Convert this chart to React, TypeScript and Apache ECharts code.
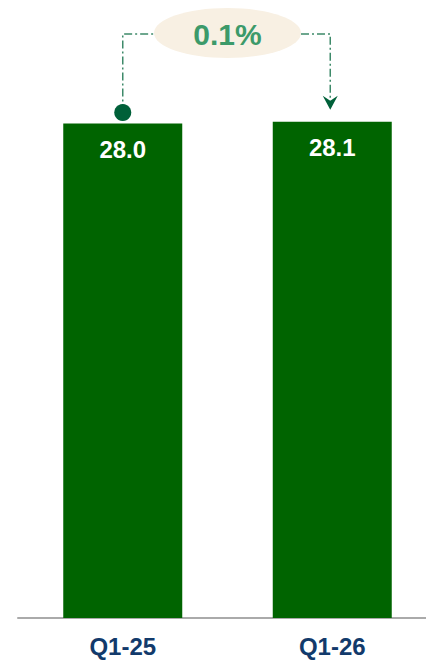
import React, { useEffect, useRef } from "react";
import * as echarts from "echarts";

const categories = ["Q1-25", "Q1-26"];
const values = [28.0, 28.1];
const changeLabel = "0.1%";

export default function App() {
  const ref = useRef<HTMLDivElement>(null);
  useEffect(() => {
    if (!ref.current) return;
    const chart = echarts.init(ref.current, null, { renderer: "svg" });
    chart.setOption({
      animation: false,
      grid: { left: 18, width: 419, top: 0, bottom: 44, outerBoundsMode: "none", containLabel: false },
      xAxis: {
        type: "category",
        data: categories,
        axisLine: { lineStyle: { color: "#AAAAAA", width: 2 } },
        axisTick: { show: false },
        axisLabel: {
          color: "#123A6B",
          fontFamily: "Liberation Sans",
          fontWeight: "bold",
          fontSize: 24,
          margin: 16,
        },
      },
      yAxis: { type: "value", min: 0, max: 35, show: false },
      series: [
        {
          type: "bar",
          data: values,
          barWidth: 119,
          itemStyle: { color: "#006400" },
          label: {
            show: true,
            position: "insideTop",
            distance: 14,
            color: "#FFFFFF",
            fontFamily: "Liberation Sans",
            fontWeight: "bold",
            fontSize: 24,
            formatter: (p: any) => p.value.toFixed(1),
          },
        },
      ],
    });
    const p1 = chart.convertToPixel({ seriesIndex: 0 }, [0, values[0]]) as number[];
    const p2 = chart.convertToPixel({ seriesIndex: 0 }, [1, values[1]]) as number[];
    const x1 = p1[0];
    const x2 = p2[0] - 2;
    const topY = 34;
    const cx = (p1[0] + p2[0]) / 2;
    const rx = 73.5;
    const ry = 25;
    const lineColor = "#3E8A6A";
    const dash = [8, 3, 2, 3];
    const dotY = p1[1] - 11;
    const arrowTip = p2[1] - 12;
    chart.setOption({
      graphic: [
        {
          type: "polyline",
          shape: { points: [[x1, dotY], [x1, topY], [cx - rx, topY]] },
          style: { stroke: lineColor, lineWidth: 1.5, lineDash: dash, fill: null },
        },
        {
          type: "polyline",
          shape: { points: [[cx + rx, topY], [x2, topY], [x2, arrowTip - 8]] },
          style: { stroke: lineColor, lineWidth: 1.5, lineDash: dash, fill: null },
        },
        {
          type: "polygon",
          shape: {
            points: [
              [x2, arrowTip],
              [x2 - 7.5, arrowTip - 14],
              [x2, arrowTip - 9],
              [x2 + 7.5, arrowTip - 14],
            ],
          },
          style: { fill: "#006039" },
        },
        {
          type: "circle",
          shape: { cx: x1, cy: dotY, r: 8.5 },
          style: { fill: "#006039" },
        },
        {
          type: "ellipse",
          shape: { cx, cy: topY - 1, rx, ry },
          style: { fill: "#F8F0E3" },
        },
        {
          type: "text",
          x: cx,
          y: topY,
          style: {
            text: changeLabel,
            fill: "#3C9A6A",
            font: "bold 30px 'Liberation Sans'",
            align: "center",
            verticalAlign: "middle",
          },
        },
      ],
    });
    return () => chart.dispose();
  }, []);
  return (
    <div
      ref={ref}
      style={{ position: "absolute", left: 0, top: 0, width: 426, height: 662 }}
    />
  );
}
